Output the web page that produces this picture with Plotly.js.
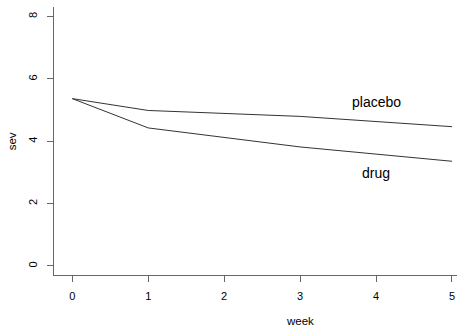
<!DOCTYPE html>
<html>
<head>
<meta charset="utf-8">
<script src="https://cdn.plot.ly/plotly-3.0.1.min.js"></script>
<style>html,body{margin:0;padding:0;background:#fff;}#chart{width:457px;height:326px;}</style>
</head>
<body>
<div id="chart"></div>
<script>
// Data
var weeks = [0, 1, 3, 5];
var placebo = [5.37, 4.99, 4.80, 4.47];
var drug = [5.37, 4.43, 3.82, 3.36];
var xTicks = [0, 1, 2, 3, 4, 5];
var yTicks = [0, 2, 4, 6, 8];
var seriesLabels = ["placebo", "drug"];
var labelX = [4, 4];
var labelY = [5.27, 2.98];

var font = "Liberation Sans, Arial, Helvetica, sans-serif";
var traces = [
  {x: weeks, y: placebo, mode: "lines", line: {color: "#333", width: 1}, hoverinfo: "none", showlegend: false},
  {x: weeks, y: drug, mode: "lines", line: {color: "#333", width: 1}, hoverinfo: "none", showlegend: false}
];
var annotations = seriesLabels.map(function (t, i) {
  return {x: labelX[i], y: labelY[i], xref: "x", yref: "y", text: t, showarrow: false,
          font: {family: font, size: 14, color: "#000"}};
});
annotations.push({x: 3, xref: "x", y: 0, yref: "paper", yshift: -46, text: "week", showarrow: false,
  xanchor: "center", yanchor: "middle", font: {family: font, size: 11.5, color: "#000"}});
annotations.push({x: 0, xref: "paper", xshift: -42, y: 4, yref: "y", text: "sev", showarrow: false, textangle: -90,
  xanchor: "center", yanchor: "middle", font: {family: font, size: 11.5, color: "#000"}});

var layout = {
  width: 457, height: 326,
  margin: {l: 54, r: 0, t: 7, b: 51, pad: 0},
  paper_bgcolor: "#fff", plot_bgcolor: "#fff",
  showlegend: false,
  xaxis: {range: [-0.241, 5.066], tickvals: xTicks, ticktext: xTicks.map(String), showgrid: false, zeroline: false,
    showline: true, linecolor: "#666", linewidth: 1, ticks: "outside", ticklen: 6, tickcolor: "#666",
    tickfont: {family: font, size: 11, color: "#000"}, ticklabelstandoff: 5},
  yaxis: {range: [-0.289, 8.31], tickvals: yTicks, ticktext: yTicks.map(String), showgrid: false, zeroline: false,
    showline: true, linecolor: "#666", linewidth: 1, ticks: "outside", ticklen: 6, tickcolor: "#666",
    tickangle: -90, tickfont: {family: font, size: 11, color: "#000"}, ticklabelstandoff: 6},
  annotations: annotations
};
Plotly.newPlot("chart", traces, layout, {displayModeBar: false, staticPlot: true});
</script>
</body>
</html>
